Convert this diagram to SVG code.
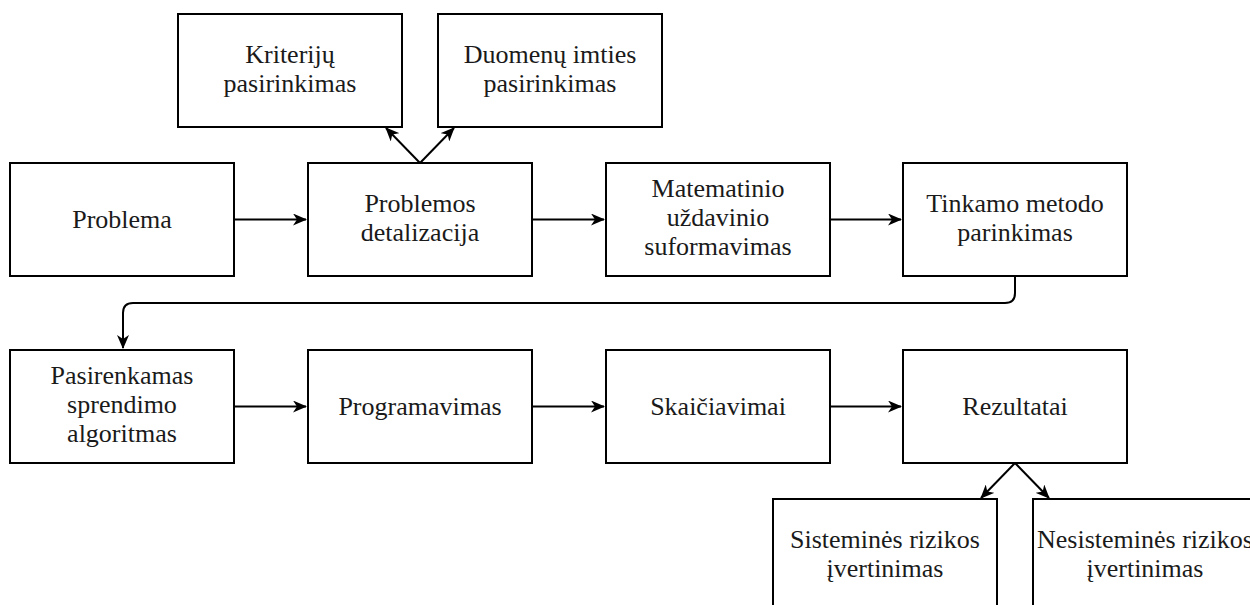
<svg xmlns="http://www.w3.org/2000/svg" width="1250" height="605" viewBox="0 0 1250 605">
<defs>
<style>
.box{fill:#fff;stroke:#000;stroke-width:2}
.t{font-family:'Liberation Serif','Times New Roman',serif;font-size:26px;fill:#1a1a1a;text-anchor:middle}
.c{fill:none;stroke:#000;stroke-width:2}
</style>
<marker id="ah" markerWidth="14" markerHeight="12" refX="13" refY="6" orient="auto" markerUnits="userSpaceOnUse">
<path d="M0,0 L14,6 L0,12 L4,6 Z" fill="#000"/>
</marker>
</defs>
<rect width="1250" height="605" fill="#fff"/>
<g id="connectors">
<path class="c" d="M234,219.5 H306" marker-end="url(#ah)"/>
<path class="c" d="M532,219.5 H604" marker-end="url(#ah)"/>
<path class="c" d="M830,219.5 H901" marker-end="url(#ah)"/>
<path class="c" d="M420,163 L386,128" marker-end="url(#ah)"/>
<path class="c" d="M420,163 L454,128" marker-end="url(#ah)"/>
<path class="c" d="M1015,276 V293 Q1015,303 1005,303 H133 Q123,303 123,313 V348" marker-end="url(#ah)"/>
<path class="c" d="M234,406.5 H306" marker-end="url(#ah)"/>
<path class="c" d="M532,406.5 H604" marker-end="url(#ah)"/>
<path class="c" d="M830,406.5 H901" marker-end="url(#ah)"/>
<path class="c" d="M1015,463 L981,498" marker-end="url(#ah)"/>
<path class="c" d="M1015,463 L1049,498" marker-end="url(#ah)"/>
</g>
<g id="n-kriteriju"><rect class="box" x="178" y="14" width="224" height="113"/><text class="t" x="290" y="63">Kriterijų</text><text class="t" x="290" y="92">pasirinkimas</text></g>
<g id="n-duomenu"><rect class="box" x="438" y="14" width="224" height="113"/><text class="t" x="550" y="63">Duomenų imties</text><text class="t" x="550" y="92">pasirinkimas</text></g>
<g id="n-problema"><rect class="box" x="10" y="163" width="224" height="113"/><text class="t" x="122" y="228">Problema</text></g>
<g id="n-detalizacija"><rect class="box" x="308" y="163" width="224" height="113"/><text class="t" x="420" y="212">Problemos</text><text class="t" x="420" y="241">detalizacija</text></g>
<g id="n-matematinio"><rect class="box" x="606" y="163" width="224" height="113"/><text class="t" x="718" y="197">Matematinio</text><text class="t" x="718" y="226">uždavinio</text><text class="t" x="718" y="255">suformavimas</text></g>
<g id="n-tinkamo"><rect class="box" x="903" y="163" width="224" height="113"/><text class="t" x="1015" y="212">Tinkamo metodo</text><text class="t" x="1015" y="241">parinkimas</text></g>
<g id="n-pasirenkamas"><rect class="box" x="10" y="350" width="224" height="113"/><text class="t" x="122" y="384">Pasirenkamas</text><text class="t" x="122" y="413">sprendimo</text><text class="t" x="122" y="442">algoritmas</text></g>
<g id="n-programavimas"><rect class="box" x="308" y="350" width="224" height="113"/><text class="t" x="420" y="415">Programavimas</text></g>
<g id="n-skaiciavimai"><rect class="box" x="606" y="350" width="224" height="113"/><text class="t" x="718" y="415">Skaičiavimai</text></g>
<g id="n-rezultatai"><rect class="box" x="903" y="350" width="224" height="113"/><text class="t" x="1015" y="415">Rezultatai</text></g>
<g id="n-sistemines"><rect class="box" x="773" y="499" width="224" height="113"/><text class="t" x="885" y="548">Sisteminės rizikos</text><text class="t" x="885" y="577">įvertinimas</text></g>
<g id="n-nesistemines"><rect class="box" x="1033" y="499" width="224" height="113"/><text class="t" x="1145" y="548">Nesisteminės rizikos</text><text class="t" x="1145" y="577">įvertinimas</text></g>
</svg>
